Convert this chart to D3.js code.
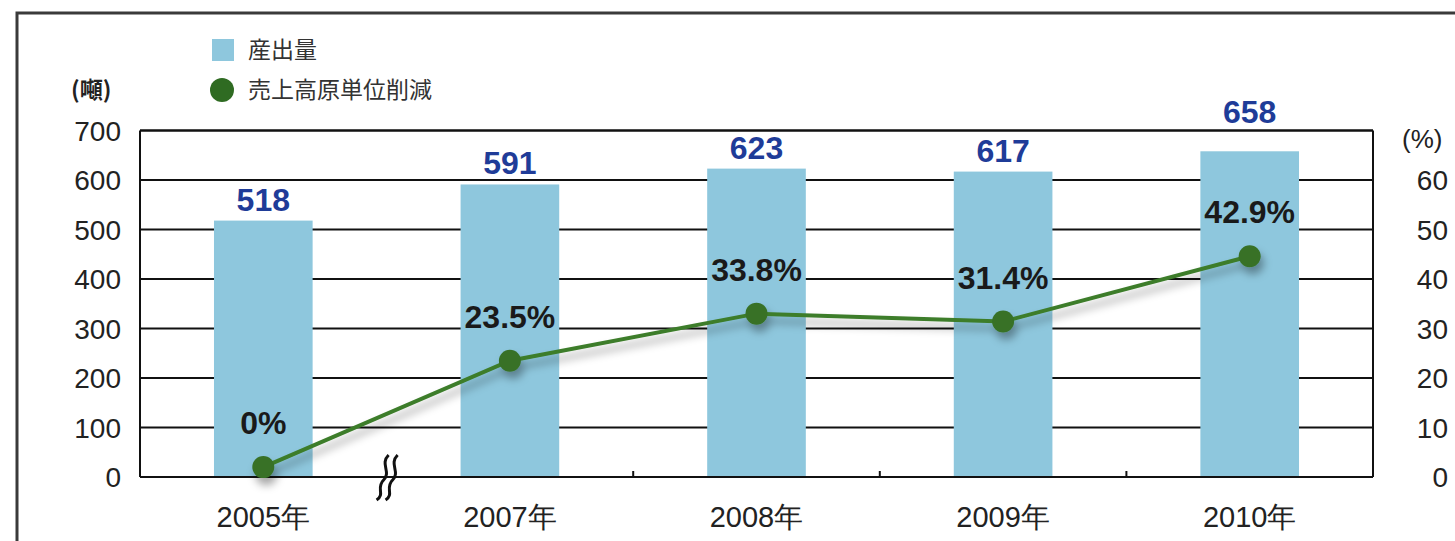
<!DOCTYPE html>
<html>
<head>
<meta charset="utf-8">
<script src="https://cdn.jsdelivr.net/npm/d3@7"></script>
<style>
	body { margin: 0; background: #fff; }
	svg { display: block; }
</style>
</head>
<body>
<div id="content"></div>
<script>
// chart data
var years = ['2005年', '2007年', '2008年', '2009年', '2010年'];
var output = [518, 591, 623, 617, 658];
var rateValues = [0, 23.5, 33.8, 31.4, 42.9];
// marker heights as drawn in the picture (%)
var ratePos = [2, 23.5, 33, 31.4, 44.6];
var leftTicks = [0, 100, 200, 300, 400, 500, 600, 700];
var rightTicks = [0, 10, 20, 30, 40, 50, 60];
var legendNames = ['産出量', '売上高原単位削減'];

var W = 1455, H = 541;
var plotLeft = 140, plotRight = 1373, plotTop = 130.5, plotBottom = 477;
var numFont = '"Liberation Sans", Arial, sans-serif';
var jpFont = '"Noto Sans CJK JP", "Liberation Sans", sans-serif';

var svg = d3.select('#content').append('svg').attr('width', W).attr('height', H);

var defs = svg.append('defs');
var f = defs.append('filter').attr('id', 'shadow').attr('x', '-20%').attr('y', '-20%').attr('width', '140%').attr('height', '160%');
f.append('feDropShadow').attr('dx', 3).attr('dy', 7).attr('stdDeviation', 4)
	.attr('flood-color', '#000').attr('flood-opacity', 0.35);

var x = d3.scaleBand().domain(years).range([plotLeft, plotRight]).paddingInner(0.6).paddingOuter(0.3);
var y = d3.scaleLinear().domain([0, 700]).range([plotBottom, plotTop]);
var y2 = d3.scaleLinear().domain([0, 70]).range([plotBottom, plotTop]);
var cx = d => x(d) + x.bandwidth() / 2;

// outer frame
svg.append('rect').attr('x', 17).attr('y', 13).attr('width', 1470).attr('height', 560)
	.attr('fill', 'none').attr('stroke', '#3a3a3a').attr('stroke-width', 3);

// gridlines
svg.append('g').selectAll('line').data(leftTicks.slice(1)).enter().append('line')
	.attr('x1', plotLeft).attr('x2', plotRight)
	.attr('y1', d => y(d)).attr('y2', d => y(d))
	.attr('stroke', '#111').attr('stroke-width', 2);

// bars
svg.append('g').selectAll('rect').data(output).enter().append('rect')
	.attr('x', (d, i) => x(years[i]))
	.attr('y', d => y(d))
	.attr('width', x.bandwidth())
	.attr('height', d => plotBottom - y(d))
	.attr('fill', '#8ec7dd');

// plot borders
svg.append('line').attr('x1', plotLeft).attr('x2', plotLeft).attr('y1', plotTop).attr('y2', plotBottom)
	.attr('stroke', '#111').attr('stroke-width', 2);
svg.append('line').attr('x1', plotRight).attr('x2', plotRight).attr('y1', plotTop).attr('y2', plotBottom)
	.attr('stroke', '#111').attr('stroke-width', 2);
svg.append('line').attr('x1', plotLeft).attr('x2', plotRight).attr('y1', plotTop).attr('y2', plotTop)
	.attr('stroke', '#111').attr('stroke-width', 2);
svg.append('line').attr('x1', plotLeft).attr('x2', plotRight).attr('y1', plotBottom).attr('y2', plotBottom)
	.attr('stroke', '#111').attr('stroke-width', 2);

// small ticks between categories (first one is the axis break)
var bounds = years.slice(1).map(d => x(d) - x.step() * x.paddingInner() / 2);
svg.append('g').selectAll('line').data(bounds.slice(1)).enter().append('line')
	.attr('x1', d => d).attr('x2', d => d)
	.attr('y1', plotBottom).attr('y2', plotBottom - 6)
	.attr('stroke', '#111').attr('stroke-width', 2);

var bx = bounds[0];
var brk = svg.append('g').attr('fill', 'none').attr('stroke', '#111').attr('stroke-width', 3);
[-4, 5].forEach(function(o)
{
	var p = d3.path();
	p.moveTo(bx + o + 6, 455);
	p.bezierCurveTo(bx + o - 3, 464, bx + o + 9, 472, bx + o + 1, 480);
	p.bezierCurveTo(bx + o - 7, 488, bx + o + 3, 494, bx + o - 6, 500);
	brk.append('path').attr('d', p.toString());
});

// left axis
svg.append('g').selectAll('text').data(leftTicks).enter().append('text')
	.attr('x', 121).attr('y', d => y(d) + 10)
	.attr('text-anchor', 'end')
	.attr('font-family', numFont).attr('font-size', 28).attr('fill', '#222')
	.text(d => d);
svg.append('text').attr('x', 71).attr('y', 98)
	.attr('font-family', jpFont).attr('font-size', 23).attr('font-weight', 'bold').attr('fill', '#222')
	.text('(噸)');

// right axis
svg.append('g').selectAll('text').data(rightTicks).enter().append('text')
	.attr('x', 1448).attr('y', d => y2(d) + 10)
	.attr('text-anchor', 'end')
	.attr('font-family', numFont).attr('font-size', 28).attr('fill', '#222')
	.text(d => d);
svg.append('text').attr('x', 1402).attr('y', 148)
	.attr('font-family', numFont).attr('font-size', 26).attr('fill', '#222')
	.text('(%)');

// x labels
svg.append('g').selectAll('text').data(years).enter().append('text')
	.attr('x', d => cx(d)).attr('y', 527)
	.attr('text-anchor', 'middle')
	.attr('font-family', numFont).attr('font-size', 29).attr('fill', '#222')
	.text(d => d);

// bar value labels, lifted above the frame when they would cross it
svg.append('g').selectAll('text').data(output).enter().append('text')
	.attr('x', (d, i) => cx(years[i]))
	.attr('y', function(d)
	{
		var b = y(d) - 10;
		return (b - 24 < plotTop + 3) ? plotTop - 8 : b;
	})
	.attr('text-anchor', 'middle')
	.attr('font-family', numFont).attr('font-size', 32).attr('font-weight', 'bold').attr('fill', '#1f3c98')
	.text(d => d);

// line + markers
var pts = ratePos.map((d, i) => [cx(years[i]), y2(d)]);
var g = svg.append('g').attr('filter', 'url(#shadow)');
g.append('path').attr('d', d3.line()(pts))
	.attr('fill', 'none').attr('stroke', '#3d7d2b').attr('stroke-width', 4);
g.selectAll('circle').data(pts).enter().append('circle')
	.attr('cx', d => d[0]).attr('cy', d => d[1]).attr('r', 11)
	.attr('fill', '#377128');

// rate labels
svg.append('g').selectAll('text').data(rateValues).enter().append('text')
	.attr('x', (d, i) => cx(years[i]))
	.attr('y', (d, i) => pts[i][1] - 33)
	.attr('text-anchor', 'middle')
	.attr('font-family', numFont).attr('font-size', 32).attr('font-weight', 'bold').attr('fill', '#1a1a1a')
	.text(d => d + '%');

// legend
svg.append('rect').attr('x', 212).attr('y', 39).attr('width', 22).attr('height', 22).attr('fill', '#8ec7dd');
svg.append('circle').attr('cx', 222).attr('cy', 90).attr('r', 12).attr('fill', '#2f6b22');
svg.append('g').selectAll('text').data(legendNames).enter().append('text')
	.attr('x', 248).attr('y', (d, i) => 58 + 40 * i)
	.attr('font-family', jpFont).attr('font-size', 23).attr('fill', '#333')
	.text(d => d);
</script>
</body>
</html>
